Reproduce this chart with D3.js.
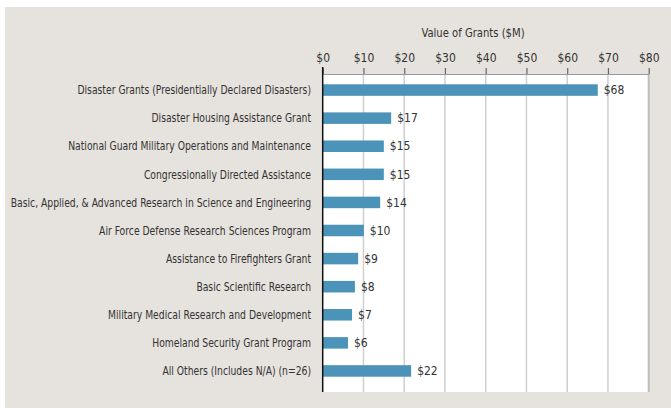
<!DOCTYPE html>
<html>
<head>
<meta charset="utf-8">
<script src="https://cdn.jsdelivr.net/npm/d3@7"></script>
<style>
    body { margin: 0; background: #fff; }
    svg text { font-family: "DejaVu Sans Condensed", "Liberation Sans Narrow", sans-serif; fill: #333; }
</style>
</head>
<body>
<div id="chart"></div>
<script>
// grant categories, top to bottom
var categories = [
    "Disaster Grants (Presidentially Declared Disasters)",
    "Disaster Housing Assistance Grant",
    "National Guard Military Operations and Maintenance",
    "Congressionally Directed Assistance",
    "Basic, Applied, & Advanced Research in Science and Engineering",
    "Air Force Defense Research Sciences Program",
    "Assistance to Firefighters Grant",
    "Basic Scientific Research",
    "Military Medical Research and Development",
    "Homeland Security Grant Program",
    "All Others (Includes N/A) (n=26)"
];

// value of grants, $M
var values = [67.5, 16.8, 15, 15, 14.1, 10.1, 8.7, 7.9, 7.2, 6.2, 21.7];

var xTicks = [0, 10, 20, 30, 40, 50, 60, 70, 80];

function draw() {
    var width = 671;
    var height = 408;

    var plot = { left: 322.7, right: 648.7, top: 74, bottom: 392 };

    // horizontal squeeze to mimic the condensed face of the original
    var squeeze = 0.855;

    var svg = d3.select("#chart").append("svg")
        .attr("width", width)
        .attr("height", height);

    // panel background
    svg.append("rect")
        .attr("x", 5)
        .attr("y", 7)
        .attr("width", width - 5)
        .attr("height", height - 7)
        .attr("fill", "#e6e2dd");

    svg.append("rect")
        .attr("x", plot.left)
        .attr("y", plot.top)
        .attr("width", plot.right - plot.left)
        .attr("height", plot.bottom - plot.top)
        .attr("fill", "#fff");

    var xScale = d3.scaleLinear()
        .domain([0, 80])
        .range([plot.left, plot.right]);

    var yScale = d3.scaleBand()
        .domain(categories)
        .range([76, 385])
        .paddingInner(0.59)
        .paddingOuter(0.295);

    // gridlines
    svg.append("g")
        .selectAll("line")
        .data(xTicks.slice(1))
        .enter()
        .append("line")
        .attr("x1", function (d) { return xScale(d); })
        .attr("x2", function (d) { return xScale(d); })
        .attr("y1", plot.top)
        .attr("y2", plot.bottom)
        .attr("stroke", function (d) { return d === 80 ? "#bdbdbd" : "#cfcfcf"; })
        .attr("stroke-width", function (d) { return d === 80 ? 2 : 1.5; });

    // top axis
    var xAxis = d3.axisTop(xScale)
        .tickValues(xTicks)
        .tickSizeInner(6)
        .tickSizeOuter(0)
        .tickPadding(6)
        .tickFormat(function (d) { return "$" + d; });

    var axisG = svg.append("g")
        .attr("transform", "translate(0," + plot.top + ")")
        .call(xAxis);

    axisG.select(".domain").attr("stroke", "#9a9a9a").attr("stroke-width", 1.2);
    axisG.selectAll(".tick line").attr("stroke", "#666").attr("stroke-width", 1.2);
    axisG.selectAll(".tick text")
        .style("font-size", "12px")
        .attr("fill", "#333");

    svg.append("text")
        .attr("transform", "translate(473,37) scale(0.93,1)")
        .style("text-anchor", "middle")
        .style("font-size", "12px")
        .text("Value of Grants ($M)");

    // bars
    svg.selectAll(".bar")
        .data(values)
        .enter()
        .append("rect")
        .attr("class", "bar")
        .attr("x", xScale(0))
        .attr("y", function (d, i) { return yScale(categories[i]); })
        .attr("width", function (d) { return xScale(d) - xScale(0); })
        .attr("height", yScale.bandwidth())
        .attr("fill", "#4b93b8");

    // value labels
    svg.selectAll(".value")
        .data(values)
        .enter()
        .append("text")
        .attr("class", "value")
        .attr("x", function (d) { return xScale(d) + 6; })
        .attr("y", function (d, i) { return yScale(categories[i]) + yScale.bandwidth() / 2; })
        .attr("dy", "0.35em")
        .style("font-size", "12px")
        .text(function (d) { return "$" + Math.round(d); });

    // category labels
    svg.append("g")
        .attr("transform", "translate(311,0) scale(" + squeeze + ",1)")
        .selectAll(".cat")
        .data(categories)
        .enter()
        .append("text")
        .attr("class", "cat")
        .attr("x", 0)
        .attr("y", function (d) { return yScale(d) + yScale.bandwidth() / 2; })
        .attr("dy", "0.35em")
        .style("text-anchor", "end")
        .style("font-size", "12px")
        .text(function (d) { return d; });

    // left axis line
    svg.append("line")
        .attr("x1", plot.left)
        .attr("x2", plot.left)
        .attr("y1", 67)
        .attr("y2", plot.bottom)
        .attr("stroke", "#111")
        .attr("stroke-width", 1.5);
}

draw();
</script>
</body>
</html>
